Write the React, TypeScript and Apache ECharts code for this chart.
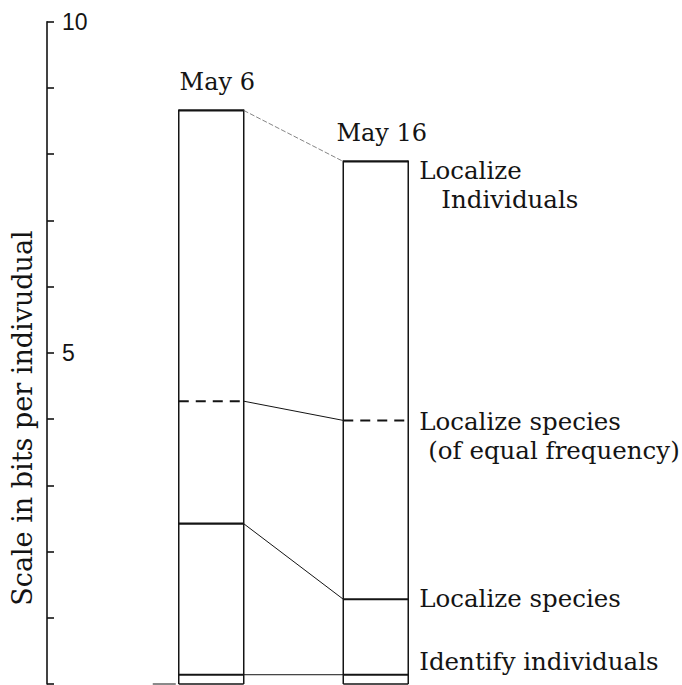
import React, { useEffect, useRef } from "react";
import * as echarts from "echarts";

// ---- data ----
const categories = ["May 6", "May 16"];
const localizeIndividuals = [8.66, 7.89];
const localizeSpeciesEqual = [4.27, 3.98];
const localizeSpecies = [2.42, 1.28];
const identifyIndividuals = [0.14, 0.14];
const yTickLabels = ["5", "10"];
const levelLabels = [
  ["Localize", "Individuals"],
  ["Localize species", "(of equal frequency)"],
  ["Localize species"],
  ["Identify individuals"],
];
const axisTitle = "Scale in bits per indivudual";

// ---- styling ----
const INK = "#141414";
const SERIF = "'DejaVu Serif', serif";
const labelStyle = [
  { dy: 9, indent: [0, 22] },
  { dy: 1, indent: [0, 9] },
  { dy: -1, indent: [0] },
  { dy: -13, indent: [0] },
];

export default function App() {
  const ref = useRef<HTMLDivElement>(null);
  useEffect(() => {
    if (!ref.current) return;
    const chart = echarts.init(ref.current, null, { renderer: "svg" });
    const levels = [localizeIndividuals, localizeSpeciesEqual, localizeSpecies, identifyIndividuals];
    const data = categories.map((_, i) => [i, ...levels.map((l) => l[i])]);
    const last = categories.length - 1;

    const renderItem = (params: any, api: any) => {
      const i = api.value(0);
      const cx = api.coord([i, 0])[0];
      const hw = (api.size([1, 0])[0] * 0.395) / 2;
      const xl = cx - hw;
      const xr = cx + hw;
      const y0 = api.coord([i, 0])[1];
      const ys = levels.map((l) => api.coord([i, l[i]])[1]);
      const children: any[] = [];
      const ln = (x1: number, y1: number, x2: number, y2: number, style: any) =>
        children.push({ type: "line", shape: { x1, y1, x2, y2 }, style: { stroke: INK, ...style } });
      ln(xl, y0, xl, ys[0] - 1, { lineWidth: 1.5 });
      ln(xr, y0, xr, ys[0] - 1, { lineWidth: 1.5 });
      ln(xl, y0, xr, y0, { lineWidth: 1.5 });
      if (i === 0) ln(xl - 26, y0, xl - 3, y0, { lineWidth: 1 });
      ln(xl, ys[0], xr, ys[0], { lineWidth: 2.2 });
      ln(xl, ys[1], xr, ys[1], { lineWidth: 2, lineDash: [10, 7] });
      ln(xl, ys[2], xr, ys[2], { lineWidth: 2.2 });
      ln(xl, ys[3], xr, ys[3], { lineWidth: 2.2 });
      if (i < last) {
        const nx = api.coord([i + 1, 0])[0] - hw;
        levels.forEach((l, k) => {
          const ny = api.coord([i + 1, l[i + 1]])[1];
          ln(xr, ys[k], nx, ny, k === 0 ? { lineWidth: 0.8, stroke: "#666", lineDash: [5, 2] } : { lineWidth: 1 });
        });
      }
      children.push({
        type: "text",
        x: cx + 6,
        y: ys[0] - 28,
        style: { text: categories[i], fill: INK, font: `24px ${SERIF}`, align: "center", verticalAlign: "middle" },
      });
      if (i === last) {
        levelLabels.forEach((lines, k) => {
          lines.forEach((t, j) => {
            children.push({
              type: "text",
              x: xr + 11 + labelStyle[k].indent[j],
              y: ys[k] + labelStyle[k].dy + j * 29,
              style: { text: t, fill: INK, font: `24.5px ${SERIF}`, align: "left", verticalAlign: "middle" },
            });
          });
        });
      }
      return { type: "group", children };
    };

    chart.setOption({
      animation: false,
      backgroundColor: "#ffffff",
      grid: { left: 129, width: 329, top: 21.7, height: 662.3 },
      xAxis: { type: "category", data: categories, show: false },
      yAxis: {
        type: "value",
        min: 0,
        max: 10,
        interval: 1,
        offset: 82,
        axisLine: { show: true, lineStyle: { color: INK, width: 1.6 } },
        axisTick: { show: true, inside: true, length: 7, lineStyle: { color: INK, width: 1.6 } },
        axisLabel: {
          inside: true,
          margin: 15,
          fontFamily: "'Liberation Sans Narrow', 'Liberation Sans', sans-serif",
          fontSize: 23,
          color: INK,
          formatter: (v: number) => (yTickLabels.includes(String(v)) ? String(v) : ""),
        },
        splitLine: { show: false },
      },
      graphic: [
        {
          type: "text",
          x: 22,
          y: 418,
          rotation: Math.PI / 2,
          style: { text: axisTitle, fill: INK, font: `27px ${SERIF}`, align: "center", verticalAlign: "middle" },
        },
      ],
      series: [
        {
          type: "custom",
          clip: false,
          renderItem,
          data,
          encode: { x: 0, y: 1 },
        },
      ],
    });
    return () => chart.dispose();
  }, []);
  return (
    <div
      ref={ref}
      style={{ position: "fixed", left: 0, top: 0, width: 682, height: 685, background: "#fff" }}
    />
  );
}
